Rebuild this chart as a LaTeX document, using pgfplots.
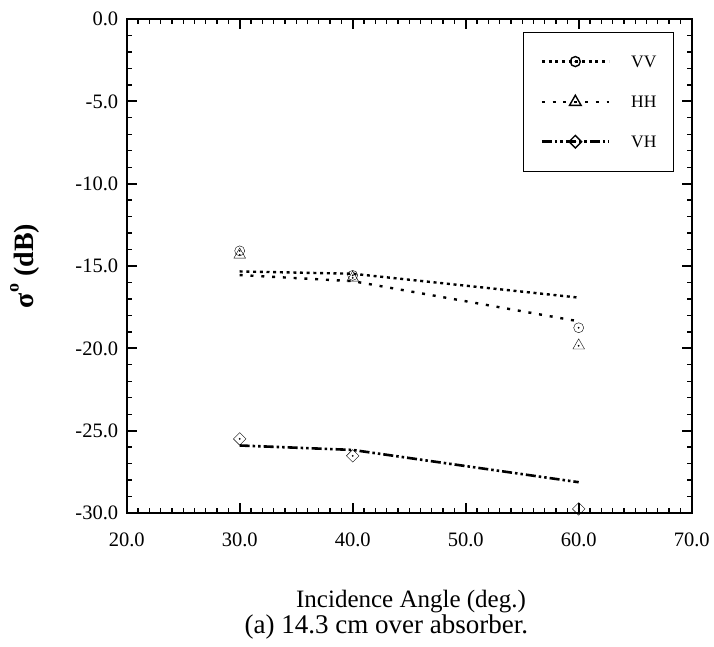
\documentclass[border=0pt]{standalone}
\usepackage{pgfplots}
\pgfplotsset{compat=1.18}
\usepackage{fontspec}
\setmainfont{Liberation Serif}

\pgfdeclareplotmark{codot}{%
  \pgfpathcircle{\pgfpointorigin}{5pt}\pgfusepathqstroke
  \pgfpathcircle{\pgfpointorigin}{1pt}\pgfusepathqfill}
\pgfdeclareplotmark{tdot}{%
  \pgfpathmoveto{\pgfqpoint{0pt}{6.5pt}}%
  \pgfpathlineto{\pgfqpoint{-5.8pt}{-3.6pt}}%
  \pgfpathlineto{\pgfqpoint{5.8pt}{-3.6pt}}%
  \pgfpathclose\pgfusepathqstroke
  \pgfpathcircle{\pgfqpoint{0pt}{-0.4pt}}{1pt}\pgfusepathqfill}
\pgfdeclareplotmark{ddot}{%
  \pgfpathmoveto{\pgfqpoint{0pt}{6.3pt}}%
  \pgfpathlineto{\pgfqpoint{6.3pt}{0pt}}%
  \pgfpathlineto{\pgfqpoint{0pt}{-6.3pt}}%
  \pgfpathlineto{\pgfqpoint{-6.3pt}{0pt}}%
  \pgfpathclose\pgfusepathqstroke
  \pgfpathcircle{\pgfpointorigin}{1pt}\pgfusepathqfill}

\begin{document}
\begin{tikzpicture}
\useasboundingbox (0pt,0pt) rectangle (714pt,646pt);
\begin{axis}[
  at={(126.7pt,133pt)}, anchor=south west,
  scale only axis, width=565pt, height=494pt,
  xmin=20, xmax=70, ymin=-30, ymax=0,
  xtick={20,30,...,70}, ytick={-30,-25,...,0},
  minor x tick num=9, minor y tick num=4,
  tick align=inside,
  major tick length=10pt, minor tick length=5pt,
  every major tick/.append style={line width=1.8pt, black},
  every minor tick/.append style={line width=1.3pt, black},
  axis line style={line width=2pt},
  /pgf/number format/.cd, fixed, fixed zerofill, precision=1, assume math mode=true,
  /pgfplots/.cd,
  ticklabel style={font=\fontsize{20.5}{24}\selectfont},
  xticklabel style={anchor=base, yshift=-33pt},
  yticklabel style={xshift=-5pt},
  ylabel={\textbf{σ\raisebox{0.55em}{\fontsize{18}{18}\selectfont o} (dB)}},
  ylabel style={at={(axis description cs:-0.18,0.5)}, anchor=center, font=\fontsize{28}{32}\selectfont},
  legend image code/.code={\draw[mark repeat=2,mark phase=2,#1] plot coordinates {(0pt,0.5pt)(33.5pt,0.5pt)(67pt,0.5pt)};},
  legend style={at={(rel axis cs:0.701,0.974)}, anchor=north west, draw=black, line width=1.5pt,
    inner xsep=17pt, inner ysep=23pt, row sep=26.7pt, column sep=21pt,
    font=\fontsize{17.5}{20}\selectfont, nodes={inner sep=0pt}},
  legend cell align=left,
  every mark/.append style={solid, line width=1.4pt},
]
% legend entries
\addlegendimage{black, line width=2.4pt, dash pattern=on 3pt off 3.7pt, mark=codot, mark options={solid,line width=1.4pt}}
\addlegendentry{VV}
\addlegendimage{black, line width=2.4pt, dash pattern=on 3pt off 7.8pt, mark=tdot, mark options={solid,line width=1.4pt}}
\addlegendentry{HH}
\addlegendimage{black, line width=2.6pt, dash pattern=on 10pt off 3pt on 2.5pt off 3pt on 2.5pt off 3pt, mark=ddot, mark options={solid,line width=1.4pt}}
\addlegendentry{VH}
% model lines
\addplot[forget plot, black, line width=2.4pt, dash pattern=on 3pt off 3.7pt] coordinates {(30,-15.33) (40,-15.47) (60,-16.92)};
\addplot[forget plot, black, line width=2.4pt, dash pattern=on 3pt off 7.8pt] coordinates {(30,-15.55) (40,-15.92) (60,-18.36)};
\addplot[forget plot, black, line width=2.6pt, dash pattern=on 10pt off 3pt on 2.5pt off 3pt on 2.5pt off 3pt] coordinates {(30,-25.9) (40,-26.17) (60,-28.13)};
% measured points
\addplot[forget plot, only marks, black, mark=codot] coordinates {(30,-14.08) (40,-15.57) (60,-18.75)};
\addplot[forget plot, only marks, black, mark=tdot] coordinates {(30,-14.30) (40,-15.70) (60,-19.82)};
\addplot[forget plot, only marks, black, mark=ddot] coordinates {(30,-25.5) (40,-26.53) (60,-29.75)};
\end{axis}
\node[anchor=base, font=\fontsize{25}{30}\selectfont] at (411pt,38.5pt) {Incidence Angle (deg.)};
\node[anchor=base, font=\fontsize{27}{32}\selectfont] at (386.4pt,13pt) {(a) 14.3 cm over absorber.};
\end{tikzpicture}
\end{document}
